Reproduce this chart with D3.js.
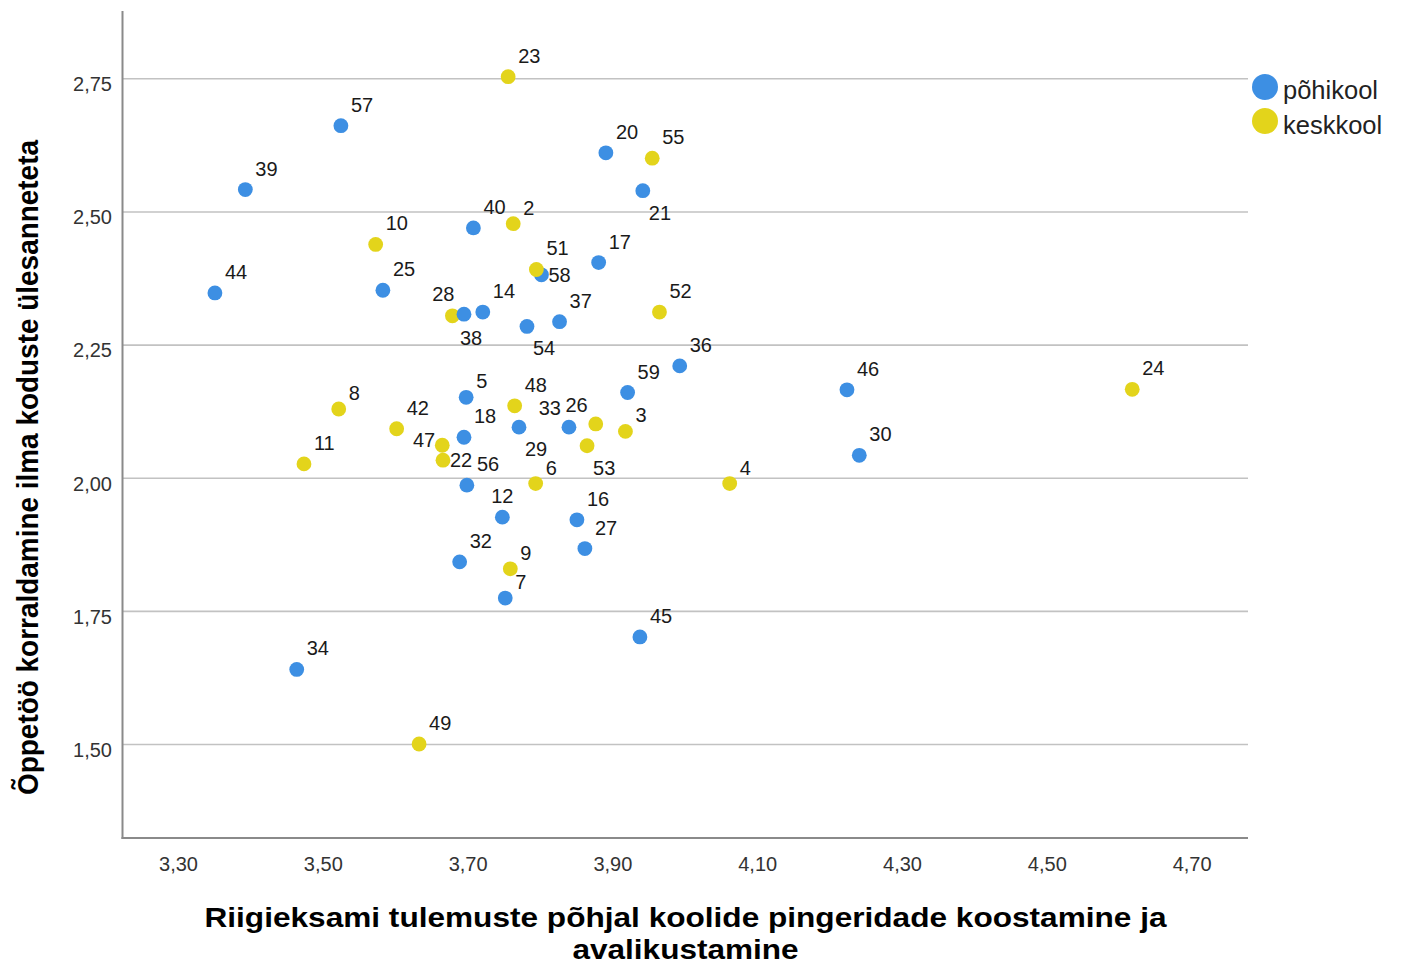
<!DOCTYPE html>
<html>
<head>
<meta charset="utf-8">
<script src="https://cdn.jsdelivr.net/npm/d3@7/dist/d3.min.js"></script>
<style>
  html, body { margin: 0; padding: 0; background: #ffffff; }
  svg { display: block; font-family: "Liberation Sans", Arial, sans-serif; }
</style>
</head>
<body>
<svg id="chart" width="1402" height="966"></svg>
<script>
// ---- Data ----
const schoolIds = [23, 57, 39, 20, 55, 21, 40, 2, 10, 44, 25, 17, 58, 51, 28, 38, 14, 37, 52, 54,
  36, 46, 24, 30, 59, 5, 48, 8, 42, 18, 47, 22, 56, 11, 29, 33, 26, 3, 53, 6,
  4, 12, 16, 27, 32, 9, 7, 45, 34, 49];
const xValues = [3.756, 3.525, 3.393, 3.891, 3.955, 3.942, 3.708, 3.763, 3.573, 3.351, 3.583, 3.881, 3.802, 3.795, 3.679, 3.695, 3.721, 3.827, 3.965, 3.782,
  3.993, 4.224, 4.618, 4.241, 3.921, 3.698, 3.765, 3.522, 3.602, 3.695, 3.665, 3.666, 3.699, 3.474, 3.771, 3.840, 3.877, 3.918, 3.865, 3.794,
  4.062, 3.748, 3.851, 3.862, 3.689, 3.759, 3.752, 3.938, 3.464, 3.633];
const yValues = [2.753, 2.661, 2.541, 2.610, 2.600, 2.539, 2.469, 2.477, 2.438, 2.347, 2.352, 2.404, 2.381, 2.391, 2.304, 2.307, 2.311, 2.293, 2.311, 2.284,
  2.210, 2.165, 2.166, 2.042, 2.160, 2.151, 2.135, 2.129, 2.092, 2.076, 2.061, 2.033, 1.986, 2.026, 2.095, 2.095, 2.101, 2.087, 2.060, 1.989,
  1.989, 1.926, 1.921, 1.867, 1.842, 1.829, 1.774, 1.701, 1.640, 1.500];
const schoolTypes = ["keskkool", "põhikool", "põhikool", "põhikool", "keskkool", "põhikool", "põhikool", "keskkool", "keskkool", "põhikool",
  "põhikool", "põhikool", "põhikool", "keskkool", "keskkool", "põhikool", "põhikool", "põhikool", "keskkool", "põhikool",
  "põhikool", "põhikool", "keskkool", "põhikool", "põhikool", "põhikool", "keskkool", "keskkool", "keskkool", "põhikool",
  "keskkool", "keskkool", "põhikool", "keskkool", "põhikool", "põhikool", "keskkool", "keskkool", "keskkool", "keskkool",
  "keskkool", "põhikool", "põhikool", "põhikool", "põhikool", "keskkool", "põhikool", "põhikool", "põhikool", "keskkool"];
const legendLabels = ["põhikool", "keskkool"];
const xTicks = [3.30, 3.50, 3.70, 3.90, 4.10, 4.30, 4.50, 4.70];
const yTicks = [1.50, 1.75, 2.00, 2.25, 2.50, 2.75];
const xTitleLines = ["Riigieksami tulemuste põhjal koolide pingeridade koostamine ja", "avalikustamine"];
const yTitle = "Õppetöö korraldamine ilma koduste ülesanneteta";

// ---- Label placement (style config: which side of the marker the id sits) ----
const labelPlacement = {21: "se", 54: "se", 29: "se", 53: "se", 38: "s", 58: "e", 22: "e",
  28: "nw", 33: "w2", 26: "w2", 47: "w", 12: "n"};

// ---- Layout ----
const colors = {"põhikool": "#3d8fe3", "keskkool": "#e3d41b"};
const plot = {left: 122.5, right: 1248, top: 11, bottom: 838};
const svg = d3.select("#chart");
svg.append("rect").attr("width", 1402).attr("height", 966).attr("fill", "#ffffff");

const x = d3.scaleLinear().domain([3.3 - 55.5 / 724, 3.3 + 1070 / 724]).range([plot.left, plot.right]);
const y = d3.scaleLinear().domain([1.5 - 94 / 532.6, 2.75 + 67.3 / 532.6]).range([plot.bottom, plot.top]);
const fmt = d => d.toFixed(2).replace(".", ",");

// y axis with gridlines
const yAxis = d3.axisLeft(y).tickValues(yTicks).tickFormat(fmt)
  .tickSizeInner(-(plot.right - plot.left)).tickSizeOuter(0).tickPadding(10.5);
const gy = svg.append("g").attr("transform", `translate(${plot.left},0)`).call(yAxis);
gy.select(".domain").remove();
gy.selectAll(".tick line").attr("stroke", "#c2c2c2").attr("stroke-width", 1.6);
gy.selectAll(".tick text").attr("fill", "#333").attr("font-size", 20).attr("dy", "0.62em")
  .attr("font-family", "Liberation Sans, Arial, sans-serif");

// x axis (labels only)
const xAxis = d3.axisBottom(x).tickValues(xTicks).tickFormat(fmt).tickSize(0).tickPadding(19);
const gx = svg.append("g").attr("transform", `translate(0,${plot.bottom})`).call(xAxis);
gx.select(".domain").remove();
gx.selectAll(".tick text").attr("fill", "#333").attr("font-size", 20)
  .attr("font-family", "Liberation Sans, Arial, sans-serif");

// axis lines
svg.append("line").attr("x1", plot.left).attr("x2", plot.left).attr("y1", plot.top).attr("y2", plot.bottom + 1)
  .attr("stroke", "#8a8a8a").attr("stroke-width", 2);
svg.append("line").attr("x1", plot.left - 1).attr("x2", plot.right).attr("y1", plot.bottom).attr("y2", plot.bottom)
  .attr("stroke", "#8a8a8a").attr("stroke-width", 2);

// points
const points = schoolIds.map((id, i) => ({id, x: xValues[i], y: yValues[i], type: schoolTypes[i]}));
svg.append("g").selectAll("circle").data(points).join("circle")
  .attr("cx", d => x(d.x)).attr("cy", d => y(d.y)).attr("r", 7.4)
  .attr("fill", d => colors[d.type]);

// point labels
function labelPos(d) {
  const cx = x(d.x), cy = y(d.y);
  const p = labelPlacement[d.id] || "ne";
  const single = String(d.id).length === 1;
  switch (p) {
    case "se": return [cx + 6, cy + 29, "start"];
    case "s": return [cx - 4, cy + 31, "start"];
    case "e": return [cx + 7, cy + 7, "start"];
    case "nw": return [cx + 2, cy - 15, "end"];
    case "w2": return [cx - 8, cy - 12, "end"];
    case "w": return [cx - 7, cy + 2, "end"];
    case "n": return [cx, cy - 14, "middle"];
    default: return [cx + 10, cy - (single ? 9 : 14), "start"];
  }
}
svg.append("g").selectAll("text").data(points).join("text")
  .attr("x", d => labelPos(d)[0]).attr("y", d => labelPos(d)[1])
  .attr("text-anchor", d => labelPos(d)[2])
  .attr("font-size", 20).attr("fill", "#1a1a1a")
  .text(d => d.id);

// legend
const lg = svg.append("g");
legendLabels.forEach((lab, i) => {
  lg.append("circle").attr("cx", 1265).attr("cy", 87 + i * 34).attr("r", 13).attr("fill", colors[lab]);
  lg.append("text").attr("x", 1283).attr("y", 99 + i * 34.5).attr("font-size", 25.5).attr("fill", "#222").text(lab);
});

// axis titles
svg.append("text").attr("x", 685.5).attr("y", 927).attr("text-anchor", "middle")
  .attr("font-size", 28).attr("font-weight", "bold").attr("fill", "#000")
  .attr("textLength", 962).attr("lengthAdjust", "spacingAndGlyphs").text(xTitleLines[0]);
svg.append("text").attr("x", 685.5).attr("y", 959).attr("text-anchor", "middle")
  .attr("font-size", 28).attr("font-weight", "bold").attr("fill", "#000")
  .attr("textLength", 226).attr("lengthAdjust", "spacingAndGlyphs").text(xTitleLines[1]);
svg.append("text").attr("transform", "translate(37.5,467.5) rotate(-90)").attr("text-anchor", "middle")
  .attr("font-size", 29).attr("font-weight", "bold").attr("fill", "#000")
  .attr("textLength", 655).attr("lengthAdjust", "spacingAndGlyphs").text(yTitle);
</script>
</body>
</html>
